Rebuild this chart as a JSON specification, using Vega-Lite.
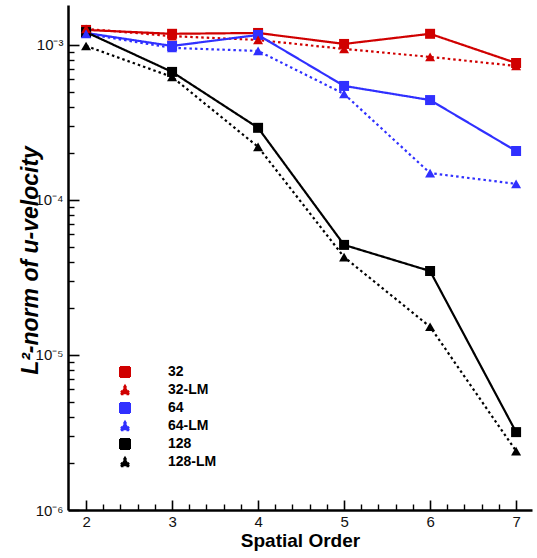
{
  "$schema": "https://vega.github.io/schema/vega-lite/v6.json",
  "width": 464,
  "height": 505,
  "autosize": {"type": "none"},
  "padding": {"left": 68, "top": 5, "right": 5, "bottom": 48},
  "background": "white",
  "config": {
    "view": {"stroke": null, "fill": null},
    "font": "Liberation Sans",
    "axis": {
      "domainColor": "black",
      "domainWidth": 2.5,
      "tickColor": "black",
      "tickOpacity": 1,
      "tickWidth": 1.6,
      "grid": false,
      "labelColor": "#111",
      "labelFont": "Liberation Sans",
      "labelFontSize": 15
    }
  },
  "data": {
    "values": [
      {"order": 2, "series": "32", "value": 1.25e-3},
      {"order": 3, "series": "32", "value": 1.18e-3},
      {"order": 4, "series": "32", "value": 1.195e-3},
      {"order": 5, "series": "32", "value": 1.015e-3},
      {"order": 6, "series": "32", "value": 1.18e-3},
      {"order": 7, "series": "32", "value": 7.65e-4},
      {"order": 2, "series": "32-LM", "value": 1.27e-3},
      {"order": 3, "series": "32-LM", "value": 1.14e-3},
      {"order": 4, "series": "32-LM", "value": 1.077e-3},
      {"order": 5, "series": "32-LM", "value": 9.42e-4},
      {"order": 6, "series": "32-LM", "value": 8.37e-4},
      {"order": 7, "series": "32-LM", "value": 7.32e-4},
      {"order": 2, "series": "64", "value": 1.195e-3},
      {"order": 3, "series": "64", "value": 9.85e-4},
      {"order": 4, "series": "64", "value": 1.16e-3},
      {"order": 5, "series": "64", "value": 5.44e-4},
      {"order": 6, "series": "64", "value": 4.41e-4},
      {"order": 7, "series": "64", "value": 2.07e-4},
      {"order": 2, "series": "64-LM", "value": 1.18e-3},
      {"order": 3, "series": "64-LM", "value": 9.57e-4},
      {"order": 4, "series": "64-LM", "value": 9.15e-4},
      {"order": 5, "series": "64-LM", "value": 4.83e-4},
      {"order": 6, "series": "64-LM", "value": 1.49e-4},
      {"order": 7, "series": "64-LM", "value": 1.27e-4},
      {"order": 2, "series": "128", "value": 1.21e-3},
      {"order": 3, "series": "128", "value": 6.70e-4},
      {"order": 4, "series": "128", "value": 2.92e-4},
      {"order": 5, "series": "128", "value": 5.13e-5},
      {"order": 6, "series": "128", "value": 3.48e-5},
      {"order": 7, "series": "128", "value": 3.18e-6},
      {"order": 2, "series": "128-LM", "value": 9.85e-4},
      {"order": 3, "series": "128-LM", "value": 6.22e-4},
      {"order": 4, "series": "128-LM", "value": 2.20e-4},
      {"order": 5, "series": "128-LM", "value": 4.28e-5},
      {"order": 6, "series": "128-LM", "value": 1.52e-5},
      {"order": 7, "series": "128-LM", "value": 2.40e-6}
    ]
  },
  "layer": [
    {
      "mark": {"type": "line", "strokeWidth": 2.2},
      "encoding": {
        "x": {
          "field": "order", "type": "quantitative",
          "scale": {"domain": [1.79, 7.185], "nice": false, "zero": false},
          "axis": {
            "orient": "bottom",
            "values": [2, 3, 4, 5, 6, 7],
            "ticks": false,
            "labelPadding": 4,
            "title": "Spatial Order",
            "titleFontSize": 19,
            "titleFontWeight": "bold",
            "titleFont": "Liberation Sans",
            "titlePadding": 2
          }
        },
        "y": {
          "field": "value", "type": "quantitative",
          "scale": {"type": "log", "domain": [1e-6, 1.81e-3], "nice": false},
          "axis": {
            "orient": "left",
            "values": [1e-6, 1e-5, 1e-4, 1e-3],
            "ticks": false,
            "labelPadding": 5,
            "labelExpr": "'10' + (datum.value > 5e-4 ? '⁻³' : datum.value > 5e-5 ? '⁻⁴' : datum.value > 5e-6 ? '⁻⁵' : '⁻⁶')",
            "title": "L²-norm of u-velocity",
            "titleFontSize": 23,
            "titleFontWeight": "bold",
            "titleFontStyle": "italic",
            "titleFont": "Liberation Sans",
            "titleAngle": -90,
            "titleAlign": "center",
            "titleBaseline": "alphabetic",
            "titleX": -31,
            "titleY": 255
          }
        },
        "color": {
          "field": "series", "type": "nominal",
          "scale": {
            "domain": ["32", "32-LM", "64", "64-LM", "128", "128-LM"],
            "range": ["#d00000", "#d00000", "#3030ff", "#3030ff", "black", "black"]
          },
          "legend": {
            "orient": "none",
            "legendX": 50,
            "legendY": 360,
            "title": null,
            "labelFontSize": 14,
            "labelFontWeight": "bold",
            "labelFont": "Liberation Sans",
            "labelColor": "black",
            "labelOffset": 36,
            "rowPadding": 0,
            "symbolSize": 100,
            "symbolStrokeWidth": 2,
            "symbolType": "M-6.2,0H6.2M-1,-1H1V1H-1Z",
            "encode": {
              "symbols": {
                "update": {
                  "shape": {"signal": "indexof(datum.value, 'LM') >= 0 ? 'M-6.2,0H6.2M0,-1.15L1.15,0.85H-1.15Z' : 'M-6.2,0H6.2M-1,-1H1V1H-1Z'"},
                  "fill": {"signal": "scale('color', datum.value)"},
                  "fillOpacity": {"value": 1},
                  "stroke": {"signal": "scale('color', datum.value)"},
                  "strokeOpacity": {"value": 1},
                  "strokeWidth": {"value": 2}
                }
              }
            }
          }
        },
        "strokeDash": {
          "field": "series", "type": "nominal",
          "scale": {
            "domain": ["32", "32-LM", "64", "64-LM", "128", "128-LM"],
            "range": [[1, 0], [2.5, 3], [1, 0], [2.5, 3], [1, 0], [2.5, 3]]
          }
        }
      }
    },
    {
      "transform": [{"filter": "indexof(datum.series, 'LM') < 0"}],
      "mark": {"type": "point", "filled": true, "opacity": 1, "size": 100},
      "encoding": {
        "x": {
          "field": "order", "type": "quantitative",
          "axis": {
            "orient": "top",
            "offset": -505,
            "values": [2, 3, 4, 5, 6, 7],
            "ticks": true,
            "tickSize": 10,
            "tickColor": "black",
            "tickWidth": 1.6,
            "labels": false,
            "domain": false,
            "title": null
          }
        },
        "y": {
          "field": "value", "type": "quantitative",
          "axis": {
            "orient": "right",
            "offset": -464,
            "values": [1e-6, 1e-5, 1e-4, 1e-3],
            "ticks": true,
            "tickSize": 11,
            "tickColor": "black",
            "tickWidth": 1.6,
            "labels": false,
            "domain": false,
            "title": null
          }
        },
        "fill": {
          "field": "series", "type": "nominal",
          "scale": {
            "domain": ["32", "32-LM", "64", "64-LM", "128", "128-LM"],
            "range": ["#d00000", "#d00000", "#3030ff", "#3030ff", "black", "black"]
          },
          "legend": null
        },
        "shape": {
          "field": "series", "type": "nominal",
          "scale": {
            "domain": ["32", "32-LM", "64", "64-LM", "128", "128-LM"],
            "range": ["square", "triangle-up", "square", "triangle-up", "square", "triangle-up"]
          },
          "legend": null
        }
      }
    },
    {
      "transform": [{"filter": "indexof(datum.series, 'LM') >= 0"}],
      "mark": {"type": "point", "filled": true, "opacity": 1, "size": 100},
      "encoding": {
        "x": {
          "field": "order", "type": "quantitative",
          "axis": {
            "orient": "top",
            "offset": -505,
            "values": [2.2, 2.4, 2.6, 2.8, 3.2, 3.4, 3.6, 3.8, 4.2, 4.4, 4.6, 4.8, 5.2, 5.4, 5.6, 5.8, 6.2, 6.4, 6.6, 6.8],
            "ticks": true,
            "tickSize": 6,
            "tickColor": "black",
            "tickWidth": 1.4,
            "labels": false,
            "domain": false,
            "title": null
          }
        },
        "y": {
          "field": "value", "type": "quantitative",
          "axis": {
            "orient": "right",
            "offset": -464,
            "values": [2e-6, 3e-6, 4e-6, 5e-6, 6e-6, 7e-6, 8e-6, 9e-6, 2e-5, 3e-5, 4e-5, 5e-5, 6e-5, 7e-5, 8e-5, 9e-5, 2e-4, 3e-4, 4e-4, 5e-4, 6e-4, 7e-4, 8e-4, 9e-4],
            "ticks": true,
            "tickSize": 6,
            "tickColor": "black",
            "tickWidth": 1.4,
            "labels": false,
            "domain": false,
            "title": null
          }
        },
        "fill": {"field": "series", "type": "nominal", "legend": null},
        "shape": {"field": "series", "type": "nominal", "legend": null}
      }
    }
  ],
  "resolve": {"axis": {"x": "independent", "y": "independent"}}
}
